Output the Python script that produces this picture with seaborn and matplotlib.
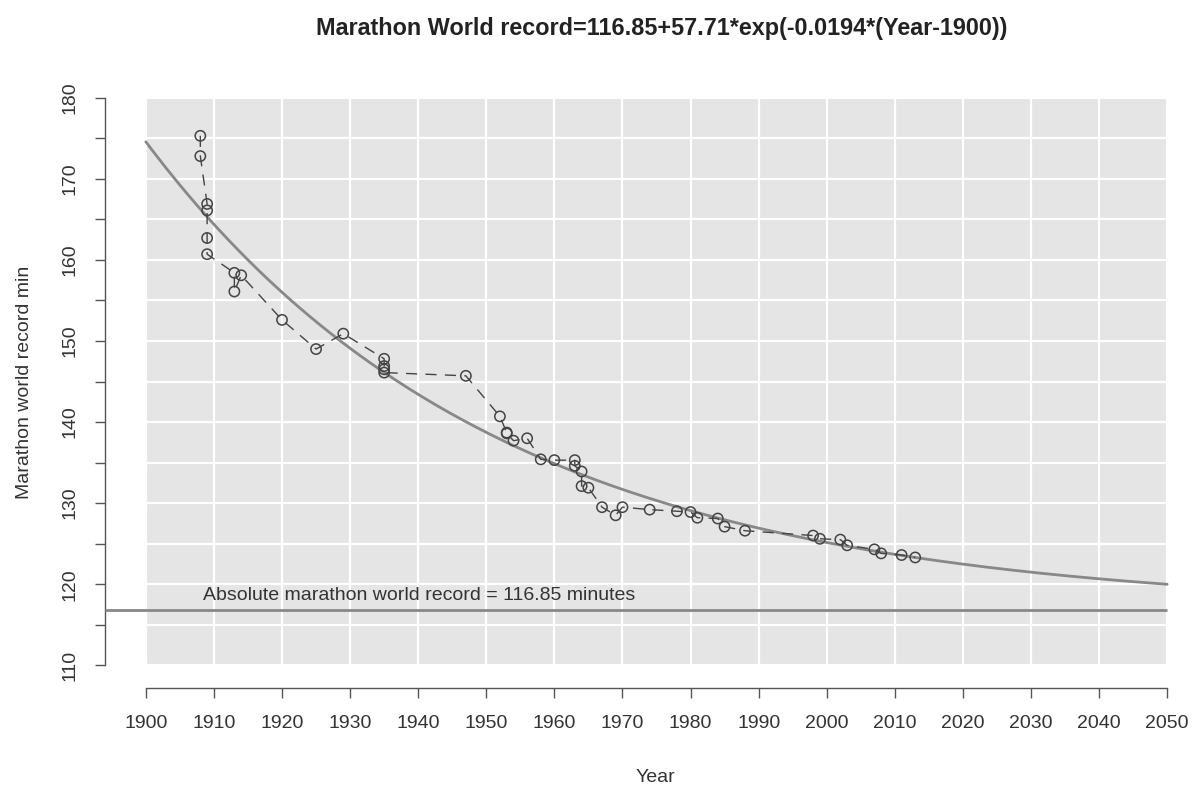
import numpy as np
import pandas as pd
import matplotlib
matplotlib.use("Agg")
import matplotlib.pyplot as plt
import seaborn as sns

# Marathon world record progression (minutes)
years = [1908, 1908, 1909, 1909, 1909, 1909, 1913, 1913, 1914, 1920, 1925, 1929,
         1935, 1935, 1935, 1935, 1947, 1952, 1953, 1953, 1954, 1956, 1958, 1960,
         1963, 1963, 1964, 1964, 1965, 1967, 1969, 1970, 1974, 1978, 1980, 1981,
         1984, 1985, 1988, 1998, 1999, 2002, 2003, 2007, 2008, 2011, 2013]
record_min = [175.3, 172.8, 166.9, 166.1, 162.7, 160.7, 158.4, 156.1, 158.1, 152.6,
              149.0, 150.9, 147.8, 146.9, 146.5, 146.1, 145.7, 140.7, 138.7, 138.6,
              137.7, 138.0, 135.4, 135.3, 135.3, 134.6, 133.9, 132.1, 131.9, 129.5,
              128.5, 129.5, 129.2, 129.0, 128.9, 128.2, 128.1, 127.1, 126.6, 126.0,
              125.6, 125.5, 124.8, 124.3, 123.8, 123.6, 123.3]

# Exponential fit parameters
asymptote = 116.85
amplitude = 57.71
rate = 0.0194
base_year = 1900

year_ticks = list(range(1900, 2051, 10))
minute_grid = list(range(110, 181, 5))
year_start, year_end = 1900, 2050
min_low, min_high = 110, 180

sns.set_theme(style="white")
plt.rcParams["font.family"] = ["Liberation Sans", "DejaVu Sans"]

fig = plt.figure(figsize=(11.92, 7.89), dpi=100)
ax = fig.add_axes([105 / 1192, 1 - 688 / 789, (1208 - 105) / 1192, (688 - 75) / 789])
ax.set_xlim(1894, 2056)
ax.set_ylim(107.2, 182.8)

# grey panel with white grid
ax.add_patch(plt.Rectangle((year_start, min_low), year_end - year_start, min_high - min_low,
                           facecolor="#e5e5e5", edgecolor="none", zorder=0))
ax.hlines(minute_grid, year_start, year_end, colors="white", linewidth=1.6, zorder=1)
ax.vlines(year_ticks, min_low, min_high, colors="white", linewidth=1.6, zorder=1)

# fitted curve
fit_years = np.linspace(year_start, year_end, 300)
fit_df = pd.DataFrame({"Year": fit_years,
                       "fit": asymptote + amplitude * np.exp(-rate * (fit_years - base_year))})
sns.lineplot(data=fit_df, x="Year", y="fit", ax=ax, color="#888888", linewidth=2.0, zorder=3)

# asymptote line
ax.hlines(asymptote, 1894, year_end, colors="#888888", linewidth=2.0, zorder=3)
ax.text(1908.4, 118.6, f"Absolute marathon world record = {asymptote} minutes",
        fontsize=14, color="#333333", va="center", ha="left", zorder=4)

# record progression
rec_df = pd.DataFrame({"Year": years, "Record": record_min})
sns.lineplot(data=rec_df, x="Year", y="Record", ax=ax, estimator=None, sort=False,
             color="#444444", linewidth=1.0, linestyle=(0, (8, 6)), zorder=4)
sns.scatterplot(data=rec_df, x="Year", y="Record", ax=ax, marker="o", s=55,
                facecolor="none", edgecolor="#444444", linewidth=1.1, zorder=5)

# axes in base-graphics style
for side in ["top", "right"]:
    ax.spines[side].set_visible(False)
ax.spines["left"].set_bounds(min_low, min_high)
ax.spines["bottom"].set_bounds(year_start, year_end)
for side in ["left", "bottom"]:
    ax.spines[side].set_color("#555555")
    ax.spines[side].set_linewidth(1.0)

ax.set_xticks(year_ticks)
ax.set_xticklabels([str(y) for y in year_ticks])
ax.set_yticks(minute_grid)
ax.set_yticklabels([str(m) if m % 10 == 0 else "" for m in minute_grid], rotation=90, va="center")
ax.tick_params(axis="both", which="major", bottom=True, left=True, direction="out",
               length=7.2, width=1.0, color="#555555", labelsize=14, labelcolor="#333333")
ax.tick_params(axis="x", pad=12)
ax.tick_params(axis="y", pad=12)
ax.set_xlabel("")
ax.set_ylabel("")

fig.text(655 / 1192, 1 - 778 / 789, "Year", fontsize=14, color="#333333", ha="center", va="center")
fig.text(25 / 1192, 1 - 382 / 789, "Marathon world record min", fontsize=14, color="#333333",
         ha="center", va="center", rotation=90)
fig.text(662 / 1192, 1 - 28 / 789,
         f"Marathon World record={asymptote}+{amplitude}*exp(-{rate}*(Year-{base_year}))",
         fontsize=16.8, fontweight="bold", color="#222222", ha="center", va="center")

fig.savefig("out.png", dpi=100)
